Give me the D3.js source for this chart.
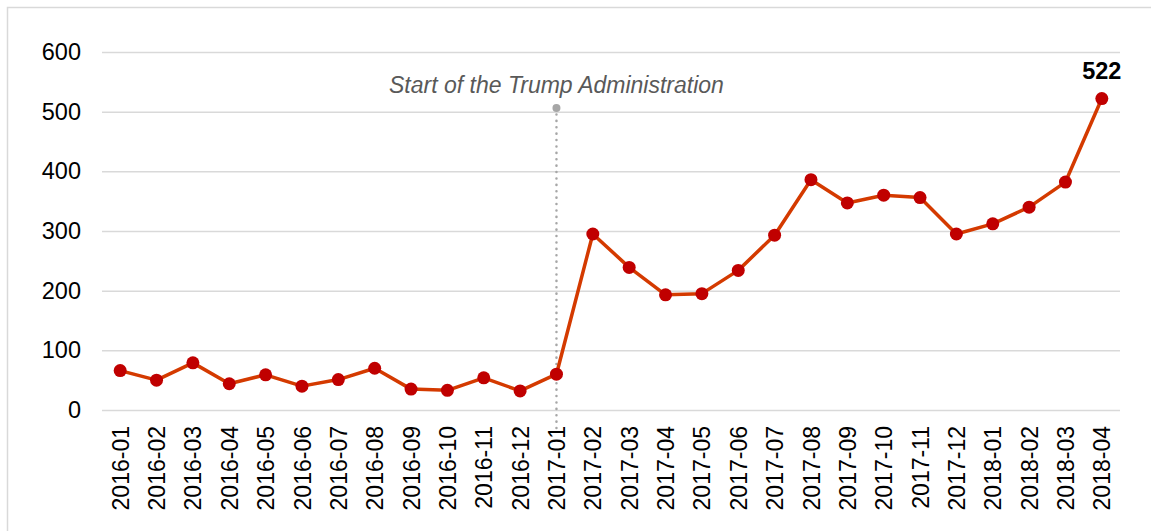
<!DOCTYPE html>
<html>
<head>
<meta charset="utf-8">
<script src="https://cdn.jsdelivr.net/npm/d3@7"></script>
<style>
  body { margin: 0; background: #fff; }
  svg { display: block; font-family: "Liberation Sans", Arial, sans-serif; }
</style>
</head>
<body>
<div id="chart"></div>
<script>
// months and counts
var months = ["2016-01", "2016-02", "2016-03", "2016-04", "2016-05", "2016-06", "2016-07",
  "2016-08", "2016-09", "2016-10", "2016-11", "2016-12", "2017-01", "2017-02", "2017-03",
  "2017-04", "2017-05", "2017-06", "2017-07", "2017-08", "2017-09", "2017-10", "2017-11",
  "2017-12", "2018-01", "2018-02", "2018-03", "2018-04"];
var counts = [66, 50, 79, 44, 59, 40, 51, 70, 35, 33, 54, 32, 60, 295, 239, 193, 195, 234,
  293, 386, 347, 360, 356, 295, 312, 340, 382, 522];
var yTicks = [0, 100, 200, 300, 400, 500, 600];
var markerMonth = "2017-01";
var markerText = "Start of the Trump Administration";

var svgWidth = 1151;
var svgHeight = 531;

var chartMargin = { top: 52, right: 31, bottom: 121, left: 102 };
var chartWidth = svgWidth - chartMargin.left - chartMargin.right;
var chartHeight = svgHeight - chartMargin.top - chartMargin.bottom;

var root = d3.select("#chart")
  .append("svg")
    .attr("width", svgWidth)
    .attr("height", svgHeight);

// outer frame
root.append("rect")
  .attr("x", 7.5)
  .attr("y", 7.5)
  .attr("width", 1200)
  .attr("height", 600)
  .attr("fill", "none")
  .attr("stroke", "#d9d9d9")
  .attr("stroke-width", 1.5);

var svg = root.append("g")
  .attr("transform", "translate(" + chartMargin.left + "," + chartMargin.top + ")");

var x = d3.scalePoint()
  .domain(months)
  .range([0, chartWidth])
  .padding(0.5);

var y = d3.scaleLinear()
  .domain([0, 600])
  .range([chartHeight, 0]);

// y axis with gridlines
var yAxis = svg.append("g")
  .call(d3.axisLeft(y).tickValues(yTicks).tickSize(-chartWidth).tickPadding(21));
yAxis.select(".domain").remove();
yAxis.selectAll(".tick line")
  .attr("stroke", "#d9d9d9")
  .attr("stroke-width", 1.5);
yAxis.selectAll(".tick text")
  .attr("fill", "#000")
  .style("font-size", "23.5px");

// x axis labels, rotated
var xAxis = svg.append("g")
  .attr("transform", "translate(0," + chartHeight + ")")
  .call(d3.axisBottom(x).tickSize(0));
xAxis.select(".domain").remove();
xAxis.selectAll(".tick text")
  .attr("fill", "#000")
  .style("font-size", "23px")
  .attr("text-anchor", "end")
  .attr("transform", "rotate(-90)")
  .attr("x", -16)
  .attr("y", 0)
  .attr("dy", "0.35em");

// administration marker
var mx = x(markerMonth);
svg.append("line")
  .attr("x1", mx)
  .attr("x2", mx)
  .attr("y1", 56)
  .attr("y2", chartHeight + 20)
  .attr("stroke", "#a6a6a6")
  .attr("stroke-width", 2.5)
  .attr("stroke-linecap", "round")
  .attr("stroke-dasharray", "0.1,6.3");
svg.append("circle")
  .attr("cx", mx)
  .attr("cy", 56)
  .attr("r", 4)
  .attr("fill", "#a6a6a6");
svg.append("text")
  .attr("x", mx)
  .attr("y", 41)
  .attr("text-anchor", "middle")
  .attr("fill", "#595959")
  .style("font-size", "23px")
  .style("font-style", "italic")
  .text(markerText);

// line
var line = d3.line()
  .x(function(d, i) { return x(months[i]); })
  .y(function(d) { return y(d); });

svg.append("path")
  .datum(counts)
  .attr("d", line)
  .attr("fill", "none")
  .attr("stroke", "#d43a00")
  .attr("stroke-width", 3.5)
  .attr("stroke-linejoin", "round");

// dots
svg.append("g")
  .selectAll("circle")
  .data(counts)
  .enter()
  .append("circle")
    .attr("cx", function(d, i) { return x(months[i]); })
    .attr("cy", function(d) { return y(d); })
    .attr("r", 6.5)
    .attr("fill", "#c00000");

// label on the last point
var last = counts.length - 1;
svg.append("text")
  .attr("x", x(months[last]))
  .attr("y", y(counts[last]) - 20)
  .attr("text-anchor", "middle")
  .attr("fill", "#000")
  .style("font-size", "23.5px")
  .style("font-weight", "bold")
  .text(counts[last]);
</script>
</body>
</html>
